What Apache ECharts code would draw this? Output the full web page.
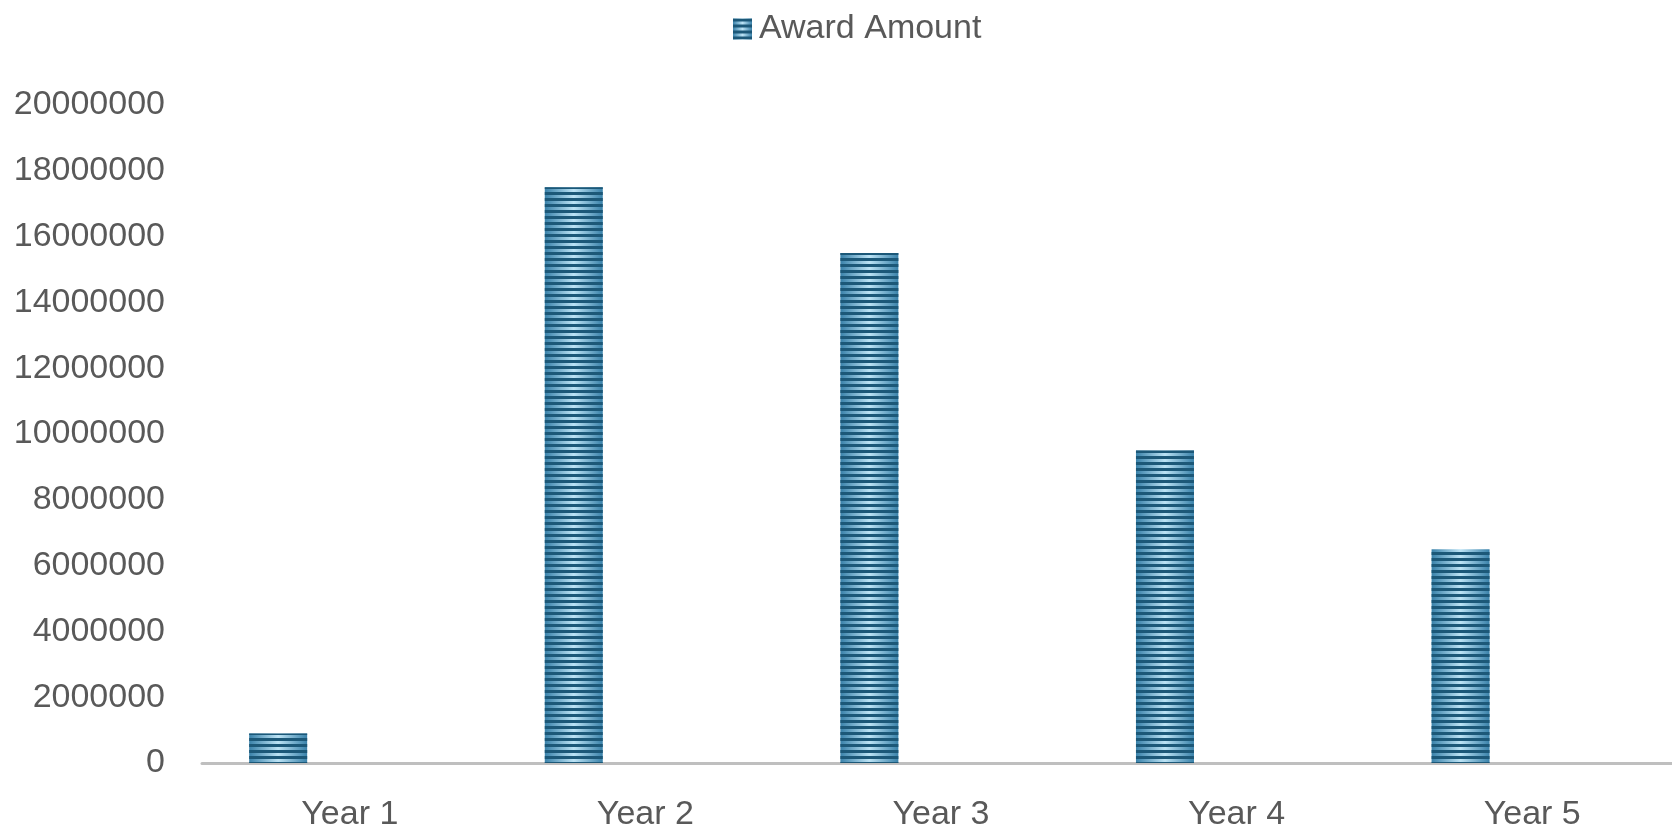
<!DOCTYPE html>
<html>
<head>
<meta charset="utf-8">
<script src="https://cdn.jsdelivr.net/npm/echarts@6/dist/echarts.min.js"></script>
<style>
html,body{margin:0;padding:0;background:#fff;}
#chart{width:1672px;height:826px;}
</style>
</head>
<body>
<div id="chart"></div>
<script>
const categories = ['Year 1', 'Year 2', 'Year 3', 'Year 4', 'Year 5'];
const awardAmount = [900000, 17500000, 15500000, 9500000, 6500000];
const seriesName = 'Award Amount';
const yMin = 0, yMax = 20000000, yStep = 2000000;

const chart = echarts.init(document.getElementById('chart'));
const font = '"Liberation Sans", Arial, sans-serif';
const textColor = '#595959';
const fs = 34;

const barStyle = {
  color: {
    type: 'linear', x: 0, y: 0, x2: 1, y2: 0,
    colorStops: [
      {offset: 0, color: '#3a82aa'},
      {offset: 0.5, color: '#bce3f5'},
      {offset: 1, color: '#3a82aa'}
    ]
  },
  decal: {
    symbol: 'rect',
    symbolSize: 1,
    dashArrayX: [1, 0],
    dashArrayY: [2.8, 2.9],
    color: '#1c5878',
    rotation: 0
  }
};

chart.setOption({
  backgroundColor: '#ffffff',
  animation: false,
  legend: {
    data: [seriesName],
    left: 733,
    top: 12,
    padding: 0,
    itemWidth: 19,
    itemHeight: 21,
    itemGap: 10,
    icon: 'rect',
    textStyle: {fontFamily: font, fontSize: fs, color: textColor, padding: [0,0,0,2]}
  },
  grid: {left: 202, right: -8, top: 105, bottom: 63, containLabel: false, outerBoundsMode: 'none'},
  xAxis: {
    type: 'category',
    data: categories,
    axisLine: {show: true, lineStyle: {color: '#bfbfbf', width: 3}},
    axisTick: {show: false},
    axisLabel: {fontFamily: font, fontSize: fs, color: textColor, margin: 35},
    splitLine: {show: false}
  },
  yAxis: {
    type: 'value',
    min: yMin, max: yMax, interval: yStep,
    axisLine: {show: false},
    axisTick: {show: false},
    splitLine: {show: false},
    axisLabel: {fontFamily: font, fontSize: fs, color: textColor, margin: 37,
      formatter: v => String(v)}
  },
  series: [
    {
      name: seriesName,
      type: 'bar',
      data: awardAmount,
      barWidth: 58,
      barGap: '147%',
      itemStyle: barStyle
    },
    {
      name: 'spacer',
      type: 'bar',
      data: categories.map(() => null),
      barWidth: 58,
      silent: true
    }
  ]
});
</script>
</body>
</html>
